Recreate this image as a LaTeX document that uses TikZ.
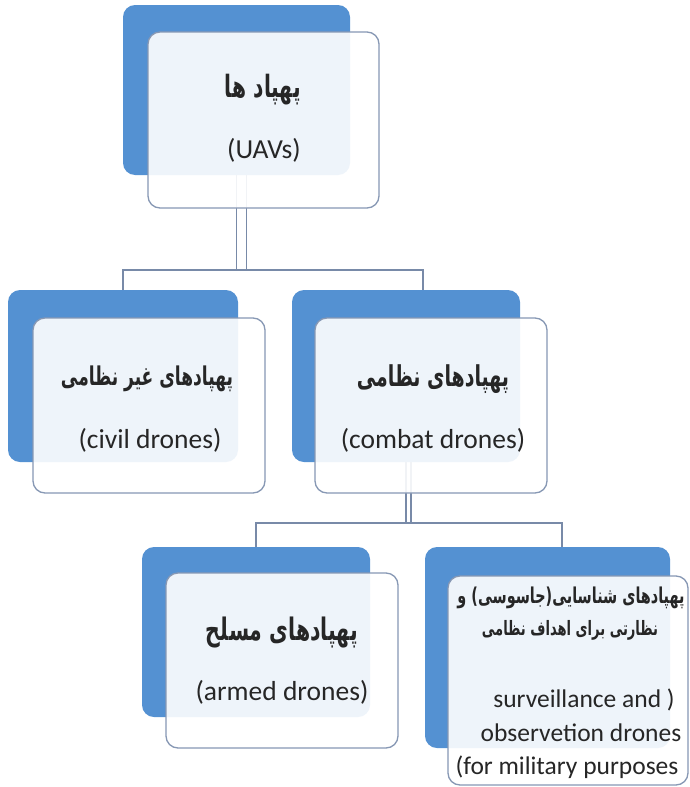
\documentclass[tikz,border=0pt]{standalone}
\usepackage{graphicx}
\usepackage{fontspec}
\setmainfont{Carlito}
\newfontfamily\fa[Script=Arabic,FakeStretch=0.66]{DejaVu Sans}
\TeXXeTstate=1
\definecolor{backblue}{RGB}{84,145,210}
\definecolor{edgec}{RGB}{135,152,180}
\definecolor{connc}{RGB}{120,138,168}
\definecolor{txtc}{RGB}{38,38,38}
\newcommand{\fatext}[2]{\resizebox{#1pt}{!}{\fa\bfseries #2}}
\begin{document}
\begin{tikzpicture}[x=1pt,y=-1pt,
  backbox/.style={draw=none, fill=backblue, rounded corners=12pt, inner sep=0pt, outer sep=0pt},
  frontbox/.style={draw=edgec, line width=1.3pt, fill=white, fill opacity=0.9, rounded corners=12pt, inner sep=0pt, outer sep=0pt},
  connector/.style={draw=connc, line width=1.2pt},
  en/.style={font=\fontsize{27.5}{33}\selectfont, text=txtc, inner sep=0pt},
  ensm/.style={font=\fontsize{25.5}{30}\selectfont, text=txtc, inner sep=0pt},
  fat/.style={text=txtc, inner sep=0pt}]
\useasboundingbox (0,0) rectangle (689,787);
\fill[white] (0,0) rectangle (689,787);
% back boxes
\node[backbox, minimum width=227pt, minimum height=170pt] (topB) at (236.5,90) {};
\node[backbox, minimum width=230pt, minimum height=172pt] (civilB) at (123,376) {};
\node[backbox, minimum width=228pt, minimum height=172pt] (combatB) at (406,376) {};
\node[backbox, minimum width=228pt, minimum height=170pt] (armedB) at (256,632) {};
\node[backbox, minimum width=245pt, minimum height=201pt] (survB) at (547.5,647.5) {};
% connectors
\coordinate (h1R) at (423,270);
\coordinate (h2R) at (562,523);
\draw[connector] (topB.south) -- (topB.south |- h1R);
\draw[connector] ([xshift=10pt]topB.south) -- ([xshift=10pt]topB.south |- h1R);
\draw[connector] (civilB.north) |- (h1R) -- (h1R |- combatB.north);
\draw[connector] (combatB.south) -- (combatB.south |- h2R);
\draw[connector] ([xshift=5pt]combatB.south) -- ([xshift=5pt]combatB.south |- h2R);
\draw[connector] (armedB.north) |- (h2R) -- (h2R |- survB.north);
% front boxes
\node[frontbox, minimum width=231pt, minimum height=176pt] (topF) at (263.5,120) {};
\node[frontbox, minimum width=232pt, minimum height=175pt] (civilF) at (149,405.5) {};
\node[frontbox, minimum width=232pt, minimum height=175pt] (combatF) at (431,405.5) {};
\node[frontbox, minimum width=232pt, minimum height=175pt] (armedF) at (282,660.5) {};
\node[frontbox, minimum width=240pt, minimum height=209pt] (survF) at (568,680.5) {};
% texts
\node[fat] (topFa) at (263,90) {\fatext{76}{\beginR پهپاد ها\endR}};
\node[en] (topEn) at (264,150) {(UAVs)};
\node[fat] (civilFa) at (147,379) {\fatext{172}{\beginR پهپادهای غیر نظامی\endR}};
\node[en] (civilEn) at (150,440) {(civil drones)};
\node[fat] (combatFa) at (433,379) {\fatext{152}{\beginR پهپادهای نظامی\endR}};
\node[en] (combatEn) at (433,440) {(combat drones)};
\node[fat] (armedFa) at (282,633) {\fatext{152}{\beginR پهپادهای مسلح\endR}};
\node[en] (armedEn) at (282,692) {(armed drones)};
\node[fat] (survFa1) at (571,598) {\fatext{227}{\beginR پهپادهای شناسایی(جاسوسی) و\endR}};
\node[fat] (survFa2) at (570,630) {\fatext{176}{\beginR نظارتی برای اهداف نظامی\endR}};
\node[ensm] (survEn1) at (584,700) {surveillance and )};
\node[ensm] (survEn2) at (581,733) {observetion drones};
\node[ensm] (survEn3) at (567,767) {(for military purposes};
\end{tikzpicture}
\end{document}
